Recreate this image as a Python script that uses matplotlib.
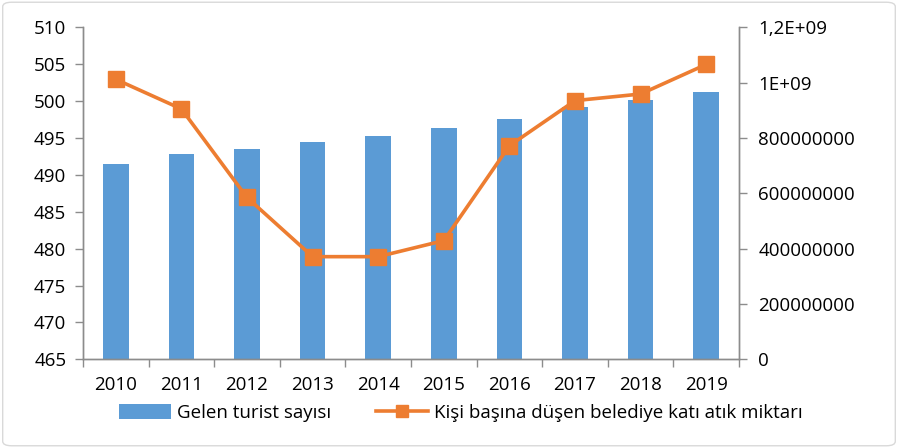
import matplotlib
matplotlib.use("Agg")
import matplotlib.pyplot as plt
from matplotlib.patches import FancyBboxPatch
from matplotlib.lines import Line2D
from matplotlib.patches import Patch

years = ["2010", "2011", "2012", "2013", "2014", "2015", "2016", "2017", "2018", "2019"]
tourists = [491.5, 492.8, 493.5, 494.4, 495.3, 496.4, 497.6, 499.2, 500.2, 501.3]
waste = [1.012e9, 0.905e9, 0.585e9, 0.371e9, 0.371e9, 0.429e9, 0.772e9, 0.935e9, 0.959e9, 1.066e9]

left_ticks = [465, 470, 475, 480, 485, 490, 495, 500, 505, 510]
right_ticks = [0, 2e8, 4e8, 6e8, 8e8, 1e9, 1.2e9]
right_labels = ["0", "200000000", "400000000", "600000000", "800000000", "1E+09", "1,2E+09"]

plt.rcParams['font.family'] = ['Open Sans', 'DejaVu Sans']
FS = 13.5

fig = plt.figure(figsize=(8.98, 4.48), dpi=100)
ax = fig.add_axes([0.0924, 0.198, 0.823 - 0.0924, 0.939 - 0.198])
ax2 = ax.twinx()

bar_color = "#5B9BD5"
line_color = "#ED7D31"
axis_color = "#8C8C8C"

x = list(range(len(years)))
ax.bar(x, tourists, width=0.39, color=bar_color, bottom=0, zorder=2)
ax.set_ylim(465, 510)
ax.set_xlim(-0.5, len(years) - 0.5)
ax.set_yticks(left_ticks)
ax.set_xticks(x)
ax.set_xticklabels(years)
ax.set_xticks([i - 0.5 for i in range(len(years) + 1)], minor=True)
ax.tick_params(axis='x', which='major', length=0, labelsize=FS, pad=12)
ax.tick_params(axis='x', which='minor', length=6, color=axis_color, width=1)
ax.tick_params(axis='y', length=6, color=axis_color, width=1, labelsize=FS, pad=6)

ax2.plot(x, waste, color=line_color, linewidth=2.6, marker='s', markersize=11,
         markerfacecolor=line_color, markeredgecolor=line_color, zorder=3)
ax2.set_ylim(0, 1.2e9)
ax2.set_yticks(right_ticks)
ax2.set_yticklabels(right_labels)
ax2.tick_params(axis='y', length=6, color=axis_color, width=1, labelsize=FS, pad=8)

for a in (ax, ax2):
    a.spines['top'].set_visible(False)
    for s in ('left', 'right', 'bottom'):
        a.spines[s].set_color(axis_color)
        a.spines[s].set_linewidth(1)

handles = [Patch(facecolor=bar_color, edgecolor='none'),
           Line2D([0], [0], color=line_color, linewidth=2.6, marker='s', markersize=9)]
labels = ["Gelen turist sayısı", "Kişi başına düşen belediye katı atık miktarı"]
fig.legend(handles, labels, loc='center', bbox_to_anchor=(0.513, 0.078), ncol=2,
           frameon=False, fontsize=FS, handlelength=2.8, handleheight=0.9,
           columnspacing=2.4, handletextpad=0.3)

border = FancyBboxPatch((0.003, 0.005), 0.994, 0.99, boxstyle="round,pad=0,rounding_size=0.01",
                        transform=fig.transFigure, facecolor='none', edgecolor='#D9D9D9',
                        linewidth=1)
fig.patches.append(border)

fig.savefig("out.png", dpi=100)
